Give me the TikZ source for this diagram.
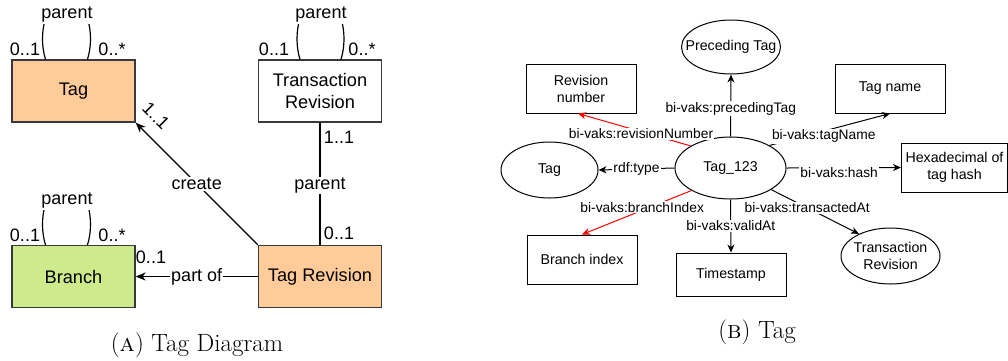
\documentclass[tikz,border=0pt]{standalone}
\usepackage{fontspec}
\newfontfamily\diafont{Liberation Sans}
\usetikzlibrary{shapes.geometric,arrows.meta}
\definecolor{tagorange}{HTML}{FFCC99}
\definecolor{branchgreen}{HTML}{CDEB8B}
\definecolor{boxline}{HTML}{36393D}
\definecolor{rdfred}{HTML}{FF0000}
\newcommand\nowidth[1]{\makebox[0pt]{#1}}

\begin{document}
\begin{tikzpicture}[x=1pt,y=-1pt,
  umlbox/.style={draw=boxline,line width=1.3pt,minimum width=123pt,minimum height=62pt,
    inner sep=0pt,align=center,font=\diafont\fontsize{18.2}{22}\selectfont},
  umltext/.style={inner sep=1pt,font=\diafont\fontsize{18}{21}\selectfont},
  umlfill/.style={umltext,fill=white},
  assoc/.style={line width=1.2pt,black},
  umlarrow/.style={assoc,-{Stealth[length=10pt,width=8pt,inset=3pt]}},
  rdfbox/.style={draw,line width=1pt,minimum width=110pt,minimum height=49pt,
    inner sep=0pt,align=center,font=\diafont\fontsize{14.2}{17}\selectfont},
  rdfnode/.style={draw,ellipse,line width=1pt,inner sep=0pt,align=center,
    font=\diafont\fontsize{14.2}{17}\selectfont},
  rdfarrow/.style={line width=1pt,-{Stealth[length=8pt,width=7pt,inset=2.5pt]}},
  edgelbl/.style={fill=white,inner sep=1pt,font=\diafont\fontsize{13.8}{16}\selectfont},
  caption/.style={anchor=base,inner sep=0pt,font=\fontsize{25}{30}\selectfont}
]
\useasboundingbox (0,0) rectangle (1008,360);

% ---------------- class diagram ----------------
\node[umlbox,fill=tagorange] (tag) at (73.5,91) {Tag};
\node[umlbox,fill=white] (txrev) at (320,91) {Transaction\\Revision};
\node[umlbox,fill=branchgreen] (branch) at (73.5,276.5) {Branch};
\node[umlbox,fill=tagorange] (tagrev) at (320,276.5) {Tag Revision};

% self associations "parent": two bracket-shaped arcs joined under the label
\coordinate (tagLoopL) at ([xshift=-28pt]tag.north);
\coordinate (tagLoopR) at ([xshift=14pt]tag.north);
\draw[assoc] (tagLoopL) .. controls +(-4,-13) and +(-4,13) .. ([yshift=41pt]tagLoopL)
  -- ([yshift=41pt]tagLoopR) .. controls +(4,13) and +(4,-13) .. (tagLoopR);
\node[umlfill] (tagParent) at (67,15) {parent};
\node[umltext] (tagMultL) at (25,49) {0..1};
\node[umltext] (tagMultR) at (112,49) {0..*};

\coordinate (txLoopL) at ([xshift=-20pt]txrev.north);
\coordinate (txLoopR) at ([xshift=21pt]txrev.north);
\draw[assoc] (txLoopL) .. controls +(-4,-13) and +(-4,13) .. ([yshift=41pt]txLoopL)
  -- ([yshift=41pt]txLoopR) .. controls +(4,13) and +(4,-13) .. (txLoopR);
\node[umlfill] (txParent) at (321,15) {parent};
\node[umltext] (txMultL) at (274,49) {0..1};
\node[umltext] (txMultR) at (362,49) {0..*};

\coordinate (brLoopL) at ([xshift=-28pt]branch.north);
\coordinate (brLoopR) at ([xshift=14pt]branch.north);
\draw[assoc] (brLoopL) .. controls +(-4,-13) and +(-4,13) .. ([yshift=41pt]brLoopL)
  -- ([yshift=41pt]brLoopR) .. controls +(4,13) and +(4,-13) .. (brLoopR);
\node[umlfill] (brParent) at (67,201) {parent};
\node[umltext] (brMultL) at (25,235) {0..1};
\node[umltext] (brMultR) at (112,235) {0..*};

% associations between classes
\draw[umlarrow] (tagrev.north west) -- (tag.south east)
  node[umlfill,pos=0.5] {create};
\node[umltext,rotate=-45] (createMult) at (156,116) {1..1};

\draw[assoc] (txrev.south) -- (tagrev.north)
  node[umlfill,pos=0.5,yshift=-2pt] {parent};
\node[umltext] (txParentMult) at (339,137) {1..1};
\node[umltext] (trParentMult) at (339,233) {0..1};

\draw[umlarrow] (tagrev.west) -- (branch.east)
  node[umlfill,pos=0.5] {part of};
\node[umltext] (partMult) at (151,257) {0..1};

\node[caption] (capA) at (197,351) {(\textsc{a}) Tag Diagram};

% ---------------- RDF graph ----------------
\node[rdfnode,minimum width=111pt,minimum height=62pt] (t123) at (730.5,168) {\nowidth{Tag\_123}};
\node[rdfnode,minimum width=99pt,minimum height=54pt] (prectag) at (731,47) {\nowidth{Preceding Tag}};
\node[rdfnode,minimum width=97pt,minimum height=56pt] (tagcls) at (549.5,170) {\nowidth{Tag}};
\node[rdfnode,minimum width=99pt,minimum height=56pt] (transrev) at (890.5,256)
  {\nowidth{Transaction}\\\nowidth{Revision}};

\node[rdfbox] (revnum) at (581,88.5) {Revision\\number};
\node[rdfbox] (tagname) at (890,88.5) {Tag name};
\node[rdfbox,minimum width=106pt] (hexbox) at (954.5,167.5) {Hexadecimal of\\tag hash};
\node[rdfbox] (brindex) at (582,259.5) {Branch index};
\node[rdfbox,minimum height=43pt] (tstamp) at (731,274.5) {Timestamp};

\draw[rdfarrow] (t123.north) -- (prectag.south)
  node[edgelbl,pos=0.45] {bi-vaks:precedingTag};
\draw[rdfarrow,rdfred] (t123.151) -- ([xshift=-3pt]revnum.south)
  node[edgelbl,text=black,pos=0.44,yshift=-2pt] {bi-vaks:revisionNumber};
\draw[rdfarrow] (t123.west) -- (tagcls.east)
  node[edgelbl,pos=0.5] {rdf:type};
\draw[rdfarrow] (t123.30) -- (tagname.south)
  node[edgelbl,pos=0.45,yshift=-5pt] {bi-vaks:tagName};
\draw[rdfarrow] (t123.east) -- (hexbox.west)
  node[edgelbl,pos=0.46,yshift=-5pt] {bi-vaks:hash};
\draw[rdfarrow,rdfred] (t123.210) -- (brindex.north)
  node[edgelbl,text=black,pos=0.45,yshift=3pt] {bi-vaks:branchIndex};
\draw[rdfarrow] (t123.south) -- (tstamp.north)
  node[edgelbl,pos=0.5] {bi-vaks:validAt};
\draw[rdfarrow] (t123.-28) -- (transrev.145)
  node[edgelbl,pos=0.41] {bi-vaks:transactedAt};

\node[caption] (capB) at (757,338) {(\textsc{b}) Tag};
\end{tikzpicture}
\end{document}
